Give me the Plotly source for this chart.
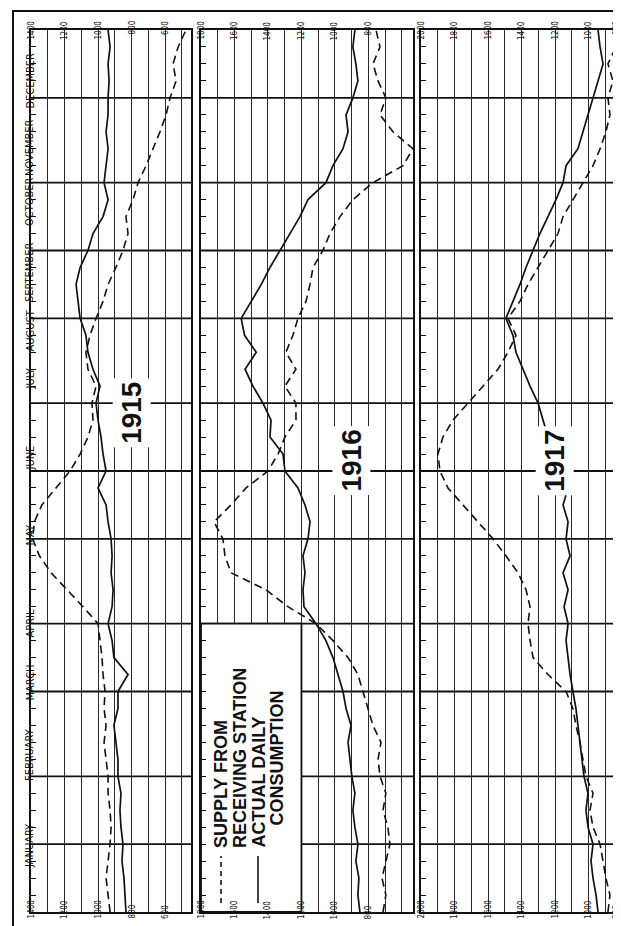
import plotly.graph_objects as go

# ---------------- data ----------------
weeks = list(range(53))  # week index from 1 January (bottom) to 31 December (top)

months = ["JANUARY", "FEBRUARY", "MARCH", "APRIL", "MAY", "JUNE", "JULY",
          "AUGUST", "SEPTEMBER", "OCTOBER", "NOVEMBER", "DECEMBER"]
month_weeks = [4, 4, 5, 4, 5, 4, 4, 5, 4, 4, 5, 4]

supply_1915 = [928, 940, 952, 940, 928, 922, 928, 940, 940, 952, 964, 952, 964, 958,
               970, 976, 988, 1000, 1090, 1185, 1280, 1350, 1390, 1380, 1335, 1251,
               1167, 1107, 1060, 1030, 1036, 1012, 1060, 1072, 1048, 1012, 970, 940,
               893, 851, 821, 833, 791, 761, 713, 672, 630, 594, 570, 534, 552, 522, 475]
consumption_1915 = [833, 839, 845, 857, 851, 863, 869, 863, 881, 881, 893, 905, 881, 881,
                    821, 905, 916, 940, 916, 910, 922, 916, 922, 940, 952, 1000, 952, 970,
                    982, 1000, 1012, 988, 1030, 1060, 1072, 1107, 1119, 1131, 1107, 1060,
                    1030, 970, 940, 964, 952, 940, 952, 940, 940, 934, 940, 928, 940]

supply_1916 = [713, 696, 719, 696, 672, 684, 713, 696, 731, 743, 725, 773, 803, 833,
               863, 922, 1012, 1113, 1281, 1412, 1621, 1657, 1669, 1722, 1621, 1531,
               1400, 1340, 1299, 1233, 1233, 1299, 1233, 1293, 1251, 1221, 1173, 1149,
               1131, 1072, 1030, 970, 893, 773, 594, 534, 654, 731, 696, 743, 773, 731, 755]
consumption_1916 = [851, 863, 857, 875, 863, 881, 893, 881, 899, 910, 922, 904, 934, 952,
                    982, 1012, 1054, 1113, 1185, 1191, 1179, 1191, 1161, 1149, 1179, 1221,
                    1299, 1310, 1388, 1382, 1430, 1490, 1537, 1470, 1540, 1560, 1500, 1440,
                    1388, 1328, 1269, 1209, 1161, 1054, 1012, 952, 922, 934, 893, 863, 875,
                    893, 881]

supply_1917 = [884, 872, 896, 913, 931, 973, 991, 973, 1015, 1033, 1051, 1075, 1093,
               1134, 1242, 1331, 1349, 1361, 1349, 1373, 1421, 1493, 1570, 1660, 1749,
               1839, 1887, 1899, 1869, 1809, 1719, 1630, 1540, 1481, 1433, 1481, 1409,
               1361, 1301, 1242, 1182, 1152, 1093, 1033, 973, 931, 896, 872, 884, 854,
               884, 836, 854]
consumption_1917 = [943, 955, 973, 985, 973, 1003, 1015, 1003, 1027, 1039, 1051, 1063,
                    1075, 1093, 1110, 1122, 1134, 1122, 1146, 1122, 1152, 1110, 1134, 1122,
                    1152, 1122, 1170, 1212, 1242, 1272, 1301, 1349, 1391, 1433, 1451, 1493,
                    1451, 1409, 1373, 1331, 1290, 1242, 1194, 1152, 1134, 1063, 1033, 1003,
                    973, 943, 913, 931, 943]

years = ["1915", "1916", "1917"]
ticks_1915 = [1400, 1200, 1000, 800, 600]
ticks_1916 = [1800, 1600, 1400, 1200, 1000, 800]
ticks_1917 = [2000, 1800, 1600, 1400, 1200, 1000, 800]

legend_supply = ["SUPPLY FROM", "RECEIVING STATION"]
legend_consumption = ["ACTUAL DAILY", "CONSUMPTION"]

# ---------------- figure ----------------
W, H = 621, 926
INK = "#111111"
FONT = "Liberation Sans, DejaVu Sans, sans-serif"
COND = "DejaVu Sans Condensed, Liberation Sans, sans-serif"

def px(v):
    return v / W

def py(v):  # pixel from top -> paper
    return 1 - v / H

# month label positions (pixels from top, as printed on the sheet)
month_label_px = [862, 775, 695, 615, 527, 450, 371, 300, 233, 167, 109, 43]

panels = [
    dict(x="x", y="y", xa="xaxis", ya="yaxis", dom=(23, 183), rng=(1400, 445),
         supply=supply_1915, cons=consumption_1915, ticks=ticks_1915, year=years[0],
         year_x=800, year_y=29.4),
    dict(x="x2", y="y2", xa="xaxis2", ya="yaxis2", dom=(193, 405), rng=(1800, 534),
         supply=supply_1916, cons=consumption_1916, ticks=ticks_1916, year=years[1],
         year_x=900, year_y=26.6),
    dict(x="x3", y="y3", xa="xaxis3", ya="yaxis3", dom=(413, 615), rng=(2000, 794),
         supply=supply_1917, cons=consumption_1917, ticks=ticks_1917, year=years[2],
         year_x=1200, year_y=26.6),
]

fig = go.Figure()
shapes = []
annotations = []
layout = dict(width=W, height=H, margin=dict(l=0, r=0, t=0, b=0),
              paper_bgcolor="white", plot_bgcolor="white", showlegend=False)

ydom = [py(904), py(22)]
boundaries = []
acc = 0
for n in month_weeks[:-1]:
    acc += n
    boundaries.append(acc)

for i, p in enumerate(panels):
    if i == 1:
        # white legend box (drawn as a filled trace so it hides the grid beneath)
        fig.add_trace(go.Scatter(x=[1800, 1200, 1200, 1800, 1800], y=[0, 0, 17, 17, 0],
                                 mode="lines", fill="toself", fillcolor="white",
                                 line=dict(color=INK, width=1.8), xaxis=p["x"],
                                 yaxis=p["y"], hoverinfo="skip"))
    fig.add_trace(go.Scatter(x=p["supply"], y=weeks, mode="lines", xaxis=p["x"], yaxis=p["y"],
                             line=dict(color=INK, width=1.6, dash="8px,5px"),
                             hoverinfo="skip"))
    fig.add_trace(go.Scatter(x=p["cons"], y=weeks, mode="lines", xaxis=p["x"], yaxis=p["y"],
                             line=dict(color=INK, width=1.7), hoverinfo="skip"))
    layout[p["xa"]] = dict(domain=[px(p["dom"][0]), px(p["dom"][1])], range=list(p["rng"]),
                           anchor=p["y"], showgrid=True, tick0=0, dtick=100,
                           gridcolor="#2a2a2a", gridwidth=1, zeroline=False,
                           showline=True, mirror=True, linecolor=INK, linewidth=2,
                           showticklabels=False, ticks="")
    layout[p["ya"]] = dict(domain=ydom, range=[0, 52], anchor=p["x"], showgrid=False,
                           zeroline=False, showline=True, mirror=True, linecolor=INK,
                           linewidth=2, tickvals=weeks, ticks="inside", ticklen=5,
                           tickwidth=1.4, tickcolor=INK, showticklabels=False)
    for b in boundaries:
        shapes.append(dict(type="line", xref=p["x"] + " domain", x0=0, x1=1,
                           yref=p["y"], y0=b, y1=b, layer="below",
                           line=dict(color=INK, width=1.8)))
    for t in p["ticks"]:
        shift = -6 if (i == 2 and t == p["ticks"][-1]) else 0
        for yy in (py(11), py(913)):
            annotations.append(dict(x=t, xref=p["x"], y=yy, yref="paper", text=str(t),
                                    textangle=-90, showarrow=False, xshift=shift,
                                    font=dict(family=COND, size=8, color=INK)))
    annotations.append(dict(x=p["year_x"], xref=p["x"], y=p["year_y"], yref=p["y"],
                            text="<b>" + p["year"] + "</b>", textangle=-90, showarrow=False,
                            bgcolor="white", borderpad=3,
                            font=dict(family=FONT, size=28, color=INK)))

# legend samples and text
shapes.append(dict(type="line", xref="paper", yref="paper", x0=px(213), x1=px(213),
                   y0=py(895), y1=py(848), layer="above",
                   line=dict(color=INK, width=1.6, dash="5px,4px")))
shapes.append(dict(type="line", xref="paper", yref="paper", x0=px(250), x1=px(250),
                   y0=py(895), y1=py(848), layer="above",
                   line=dict(color=INK, width=1.6)))
leg_items = [(213, 842, legend_supply[0]), (232, 842, legend_supply[1]),
             (250, 842, legend_consumption[0]), (268, 820, legend_consumption[1])]
for xx, yb, txt in leg_items:
    annotations.append(dict(x=px(xx), xref="paper", y=py(yb), yref="paper",
                            yanchor="bottom", text="<b>" + txt + "</b>", textangle=-90,
                            showarrow=False,
                            font=dict(family=FONT, size=18, color=INK)))

# month labels
for name, ypx in zip(months, month_label_px):
    annotations.append(dict(x=px(13), xref="paper", y=py(ypx), yref="paper",
                            text=name, textangle=-90, showarrow=False,
                            font=dict(family=COND, size=11, color=INK)))

# outer frame
shapes.append(dict(type="rect", xref="paper", yref="paper", x0=px(5), x1=px(617),
                   y0=py(921), y1=py(3), layer="above", line=dict(color=INK, width=2)))

layout["shapes"] = shapes
layout["annotations"] = annotations
fig.update_layout(**layout)
fig.write_html("out.html")
